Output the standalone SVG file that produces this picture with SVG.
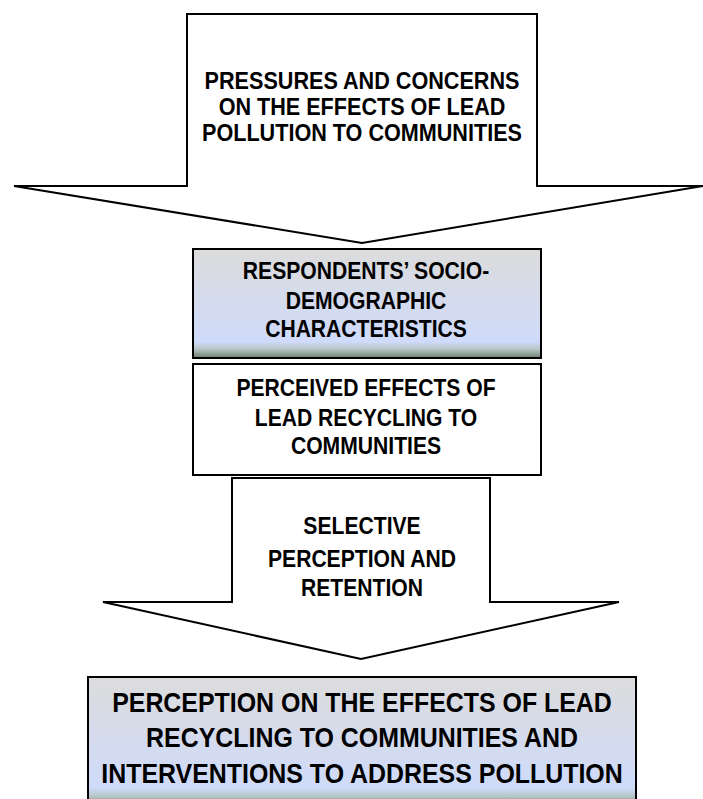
<svg xmlns="http://www.w3.org/2000/svg" width="703" height="799" viewBox="0 0 703 799">
<defs>
<linearGradient id="g" x1="0" y1="0" x2="0" y2="1">
<stop offset="0" stop-color="#dcdcdc"/>
<stop offset="0.45" stop-color="#d5dbec"/>
<stop offset="0.85" stop-color="#cfdbfa"/>
<stop offset="0.92" stop-color="#b5c4c4"/>
<stop offset="1" stop-color="#6d7d6d"/>
</linearGradient>
</defs>
<style>
.s{stroke:#000;stroke-width:2;fill:#fff}
.gb{stroke:#000;stroke-width:2;fill:url(#g)}
text{font-family:"Liberation Sans","Arial",sans-serif;font-weight:bold;text-anchor:middle;fill:#000}
.t{font-size:24px}
.b{font-size:28px}
</style>
<g id="pressures">
<polygon class="s" points="187,14 537,14 537,186 703,186 362,243 14,186 187,186"/>
<g transform="translate(362,0) scale(0.9,1)">
<text class="t" x="0" y="89">PRESSURES AND CONCERNS</text>
<text class="t" x="0" y="115">ON THE EFFECTS OF LEAD</text>
<text class="t" x="0" y="141">POLLUTION TO COMMUNITIES</text>
</g>
</g>
<g id="socio">
<rect class="gb" x="193" y="249" width="348" height="109"/>
<g transform="translate(366,0) scale(0.88,1)">
<text class="t" x="0" y="279">RESPONDENTS’ SOCIO-</text>
<text class="t" x="0" y="309">DEMOGRAPHIC</text>
<text class="t" x="0" y="337">CHARACTERISTICS</text>
</g>
</g>
<g id="perceived">
<rect class="s" x="193" y="364" width="348" height="111"/>
<g transform="translate(366,0) scale(0.88,1)">
<text class="t" x="0" y="396">PERCEIVED EFFECTS OF</text>
<text class="t" x="0" y="426">LEAD RECYCLING TO</text>
<text class="t" x="0" y="454">COMMUNITIES</text>
</g>
</g>
<g id="selective">
<polygon class="s" points="232,478 490,478 490,602 619,602 361,659 103,602 232,602"/>
<g transform="translate(362,0) scale(0.88,1)">
<text class="t" x="0" y="534">SELECTIVE</text>
<text class="t" x="0" y="567">PERCEPTION AND</text>
<text class="t" x="0" y="596">RETENTION</text>
</g>
</g>
<g id="outcome">
<rect class="gb" x="88" y="677" width="548" height="130"/>
<g transform="translate(362,0) scale(0.89,1)">
<text class="b" x="0" y="712">PERCEPTION ON THE EFFECTS OF LEAD</text>
<text class="b" x="0" y="747">RECYCLING TO COMMUNITIES AND</text>
<text class="b" x="0" y="783">INTERVENTIONS TO ADDRESS POLLUTION</text>
</g>
</g>
<g id="connectors"></g>
</svg>
